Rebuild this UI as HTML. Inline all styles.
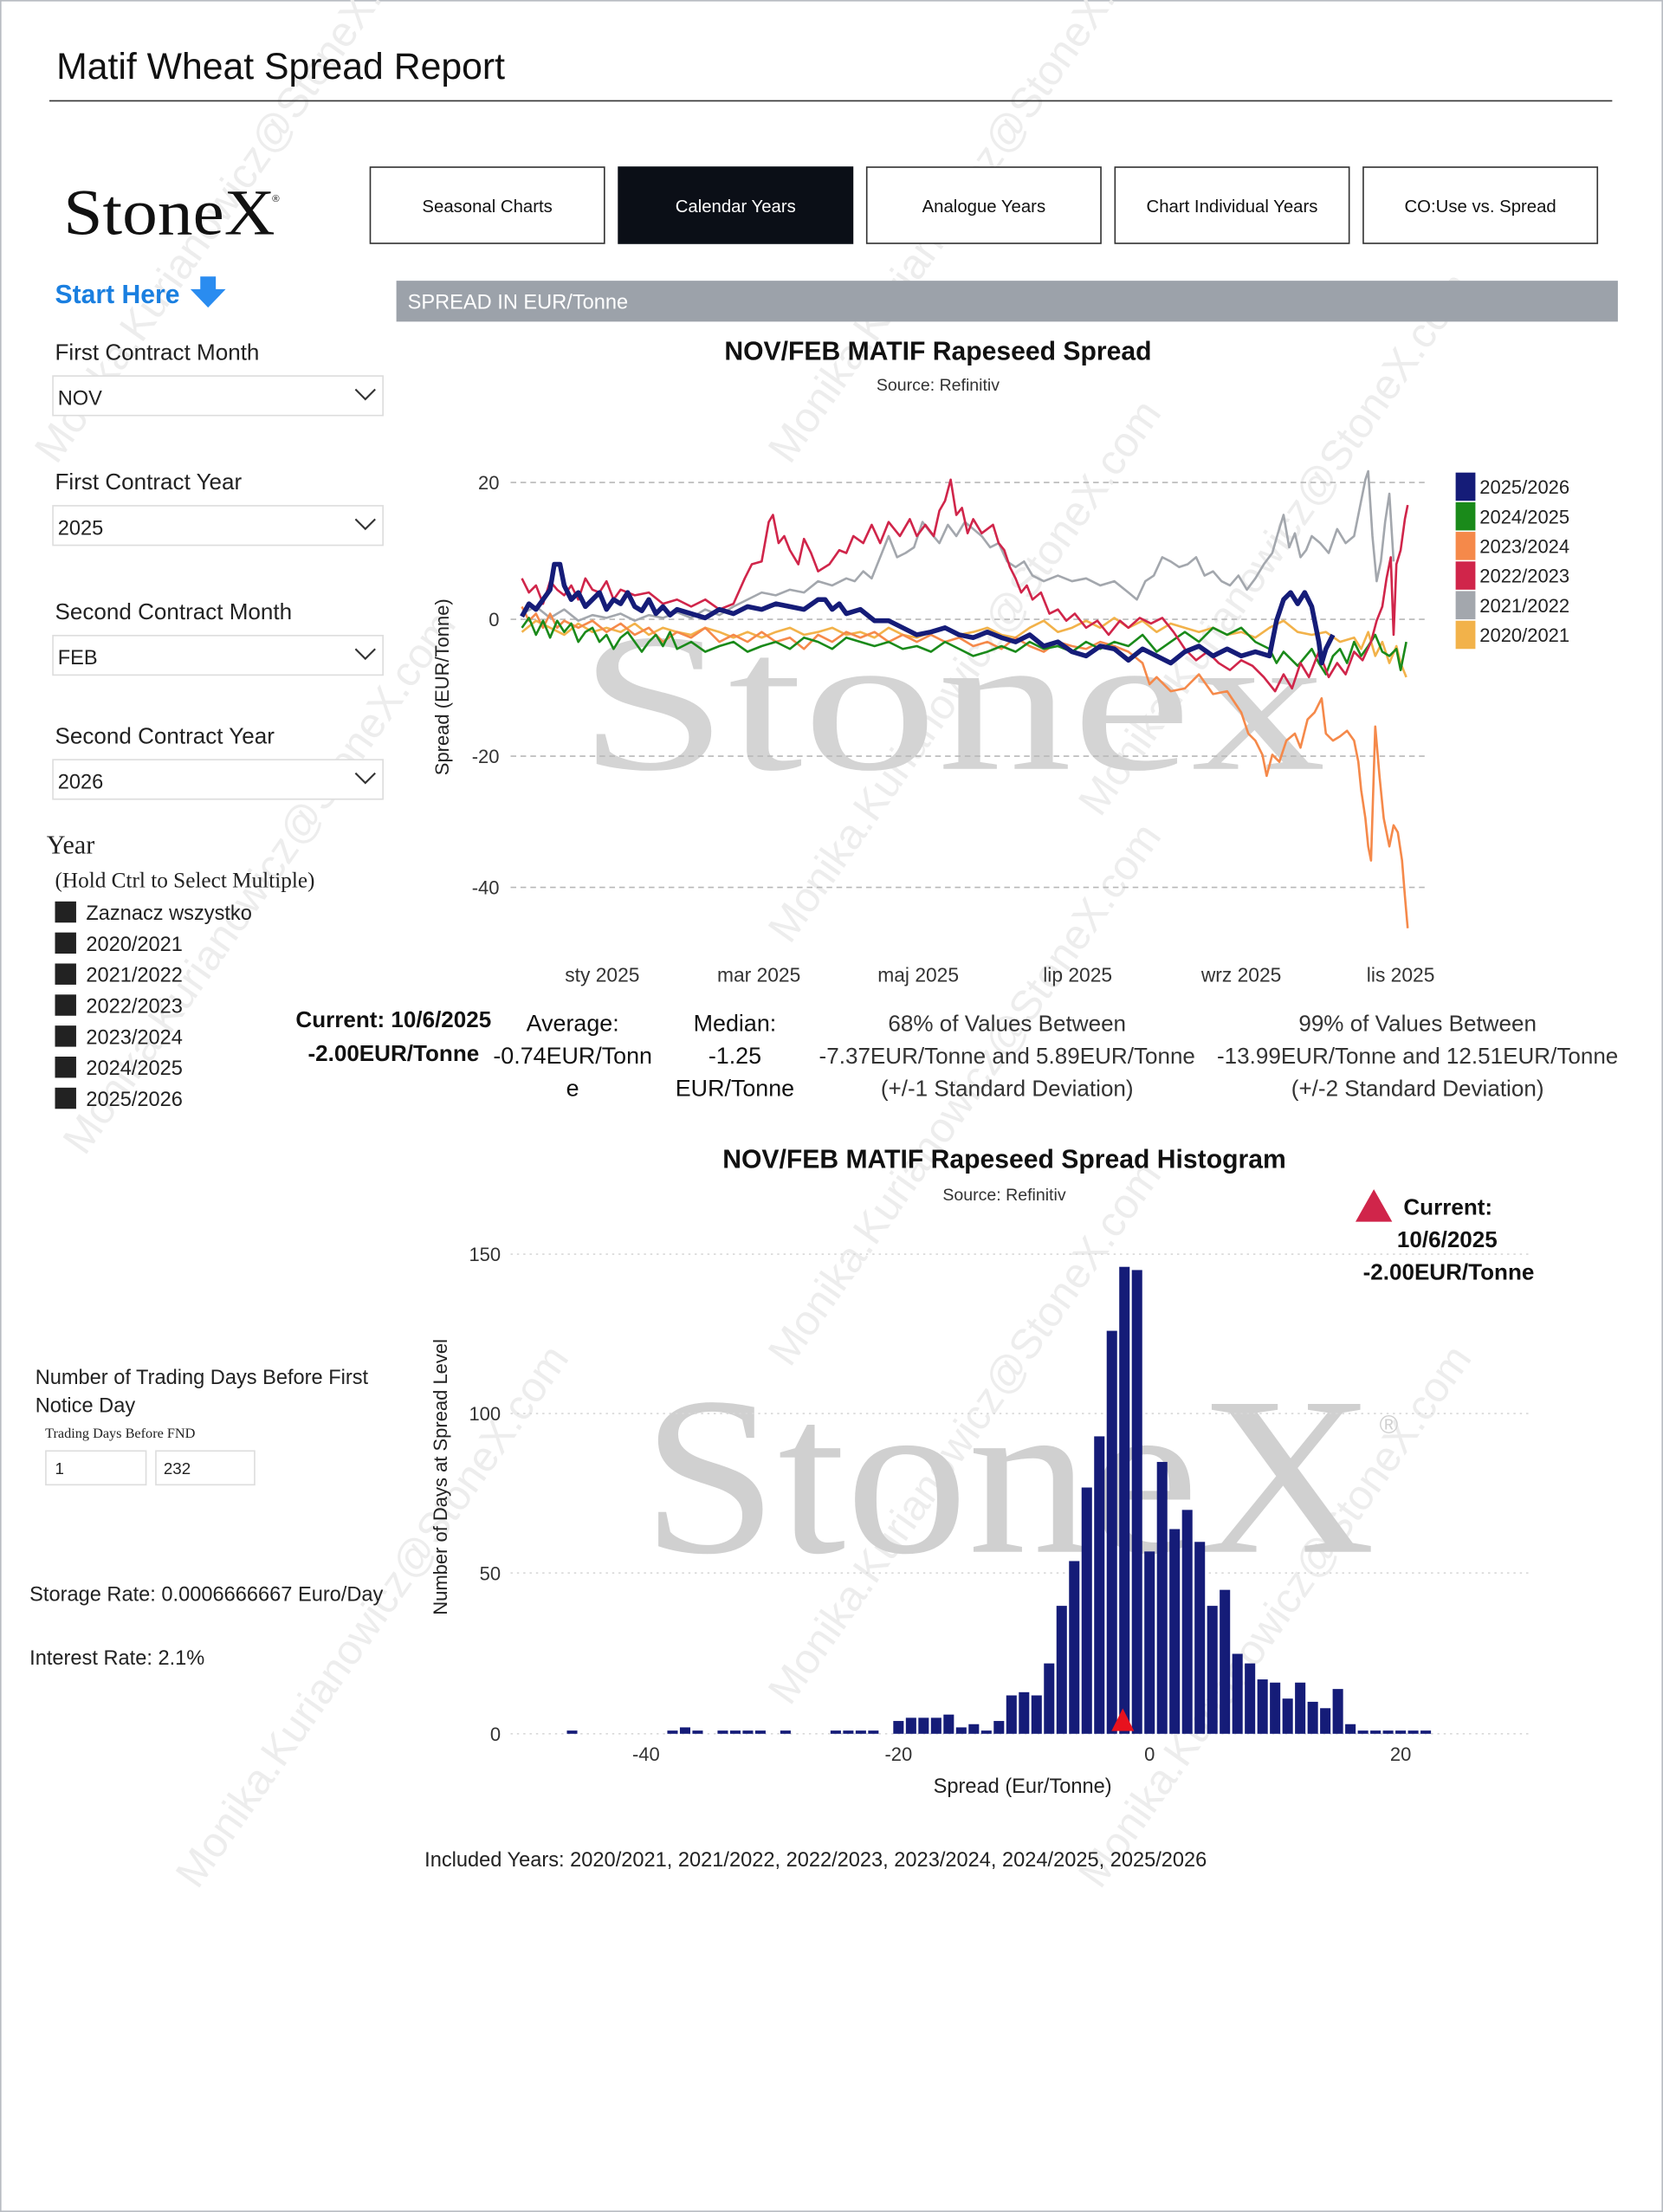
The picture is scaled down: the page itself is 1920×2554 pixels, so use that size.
<!DOCTYPE html>
<html><head><meta charset="utf-8"><style>
html,body{margin:0;padding:0;background:#fff;}
svg{display:block;}
text{font-family:"Liberation Sans",sans-serif;}
.serif{font-family:"Liberation Serif",serif;}
</style></head><body>
<svg width="1920" height="2554" viewBox="0 0 1179 1568" preserveAspectRatio="none" xmlns="http://www.w3.org/2000/svg">
<rect x="0.5" y="0.5" width="1178" height="1567" fill="#fff" stroke="#b8bcc2" stroke-width="1"/>

<!-- faint diagonal watermarks -->
<g fill="#ededed" font-size="30">
<text transform="translate(40,330) rotate(-55)">Monika.Kurianowicz@StoneX.com</text>
<text transform="translate(60,820) rotate(-55)">Monika.Kurianowicz@StoneX.com</text>
<text transform="translate(140,1340) rotate(-55)">Monika.Kurianowicz@StoneX.com</text>
<text transform="translate(560,330) rotate(-55)">Monika.Kurianowicz@StoneX.com</text>
<text transform="translate(560,670) rotate(-55)">Monika.Kurianowicz@StoneX.com</text>
<text transform="translate(560,970) rotate(-55)">Monika.Kurianowicz@StoneX.com</text>
<text transform="translate(560,1210) rotate(-55)">Monika.Kurianowicz@StoneX.com</text>
<text transform="translate(780,580) rotate(-55)">Monika.Kurianowicz@StoneX.com</text>
<text transform="translate(780,1340) rotate(-55)">Monika.Kurianowicz@StoneX.com</text>
</g>

<!-- header -->
<text x="40" y="56" font-size="26" fill="#111" textLength="318" lengthAdjust="spacingAndGlyphs">Matif Wheat Spread Report</text>
<line x1="35" y1="71.5" x2="1143" y2="71.5" stroke="#333" stroke-width="1"/>

<!-- logo -->
<text x="45" y="166" class="serif" font-size="46" fill="#111" textLength="150" lengthAdjust="spacingAndGlyphs">StoneX</text>
<text x="193" y="143" font-size="7" fill="#111">®</text>

<!-- buttons -->
<g font-size="12.5" text-anchor="middle">
<rect x="262.5" y="118.5" width="166" height="54" fill="#fff" stroke="#333"/>
<text x="345.5" y="150.5" fill="#111">Seasonal Charts</text>
<rect x="438" y="118" width="167" height="55" fill="#0b0f17"/>
<text x="521.5" y="150.5" fill="#fff">Calendar Years</text>
<rect x="614.5" y="118.5" width="166" height="54" fill="#fff" stroke="#333"/>
<text x="697.5" y="150.5" fill="#111">Analogue Years</text>
<rect x="790.5" y="118.5" width="166" height="54" fill="#fff" stroke="#333"/>
<text x="873.5" y="150.5" fill="#111">Chart Individual Years</text>
<rect x="966.5" y="118.5" width="166" height="54" fill="#fff" stroke="#333"/>
<text x="1049.5" y="150.5" fill="#111">CO:Use vs. Spread</text>
</g>

<!-- start here -->
<text x="39" y="215" font-size="18.5" font-weight="bold" fill="#1a7fe0">Start Here</text>
<path d="M142,196 h11 v9 h7 l-12.5,13 l-12.5,-13 h7 z" fill="#2a8cf0"/>

<!-- left controls -->
<g font-size="16" fill="#222">
<text x="39" y="255">First Contract Month</text>
<text x="39" y="347">First Contract Year</text>
<text x="39" y="439">Second Contract Month</text>
<text x="39" y="527">Second Contract Year</text>
</g>
<g fill="#fff" stroke="#ddd">
<rect x="37.5" y="266.5" width="234" height="28"/>
<rect x="37.5" y="358.5" width="234" height="28"/>
<rect x="37.5" y="450.5" width="234" height="28"/>
<rect x="37.5" y="538.5" width="234" height="28"/>
</g>
<g font-size="14.5" fill="#222">
<text x="41" y="287">NOV</text>
<text x="41" y="379">2025</text>
<text x="41" y="471">FEB</text>
<text x="41" y="559">2026</text>
</g>
<g fill="none" stroke="#333" stroke-width="1.3">
<polyline points="252,276 259,283 266,276"/>
<polyline points="252,368 259,375 266,368"/>
<polyline points="252,460 259,467 266,460"/>
<polyline points="252,548 259,555 266,548"/>
</g>

<text x="33" y="605" class="serif" font-size="18.5" fill="#222">Year</text>
<text x="39" y="629" class="serif" font-size="15.5" fill="#222">(Hold Ctrl to Select Multiple)</text>
<g fill="#222">
<rect x="39" y="639" width="15" height="15"/>
<rect x="39" y="661" width="15" height="15"/>
<rect x="39" y="683" width="15" height="15"/>
<rect x="39" y="705" width="15" height="15"/>
<rect x="39" y="727" width="15" height="15"/>
<rect x="39" y="749" width="15" height="15"/>
<rect x="39" y="771" width="15" height="15"/>
</g>
<g font-size="14.5" fill="#222">
<text x="61" y="652">Zaznacz wszystko</text>
<text x="61" y="674">2020/2021</text>
<text x="61" y="696">2021/2022</text>
<text x="61" y="718">2022/2023</text>
<text x="61" y="740">2023/2024</text>
<text x="61" y="762">2024/2025</text>
<text x="61" y="784">2025/2026</text>
</g>

<!-- gray bar -->
<rect x="281" y="199" width="866" height="29" fill="#9ca2aa"/>
<text x="289" y="219" font-size="14.5" fill="#fff">SPREAD IN EUR/Tonne</text>

<!-- line chart -->
<text x="665" y="255" font-size="18.5" font-weight="bold" fill="#111" text-anchor="middle">NOV/FEB MATIF Rapeseed Spread</text>
<text x="665" y="277" font-size="12" fill="#333" text-anchor="middle">Source: Refinitiv</text>

<text x="410" y="545" class="serif" font-size="140" fill="#d4d4d4" textLength="530" lengthAdjust="spacingAndGlyphs">Stonex</text>

<g stroke="#b8b8b8" stroke-dasharray="4,3" stroke-width="1">
<line x1="362" y1="342" x2="1010" y2="342"/>
<line x1="362" y1="439" x2="1010" y2="439"/>
<line x1="362" y1="536" x2="1010" y2="536"/>
<line x1="362" y1="629" x2="1010" y2="629"/>
</g>
<g font-size="13.5" fill="#333" text-anchor="end">
<text x="354" y="347">20</text>
<text x="354" y="444">0</text>
<text x="354" y="541">-20</text>
<text x="354" y="634">-40</text>
</g>
<text transform="translate(318,487) rotate(-90)" font-size="13.5" fill="#222" text-anchor="middle">Spread (EUR/Tonne)</text>
<g font-size="14" fill="#333" text-anchor="middle">
<text x="427" y="696">sty 2025</text>
<text x="538" y="696">mar 2025</text>
<text x="651" y="696">maj 2025</text>
<text x="764" y="696">lip 2025</text>
<text x="880" y="696">wrz 2025</text>
<text x="993" y="696">lis 2025</text>
</g>

<g fill="none" stroke-width="1.6" stroke-linejoin="round">
<polyline stroke="#a3a7ad" points="370,435 380,430 390,438 400,432 410,440 420,436 430,438 440,435 450,440 460,436 470,438 480,434 490,438 500,432 510,436 520,430 530,425 540,420 550,422 560,418 570,420 580,412 590,415 600,410 606,412 612,405 618,410 624,395 630,380 636,395 642,392 648,388 654,370 660,378 666,385 672,372 678,380 684,370 690,375 696,380 702,388 708,385 714,398 720,402 726,398 732,408 740,412 750,408 760,412 770,410 780,415 790,412 800,420 806,425 812,412 818,408 824,395 830,398 836,402 842,400 848,395 854,408 860,405 866,412 872,415 878,408 884,418 890,410 896,400 902,392 906,378 910,365 914,388 918,378 922,395 926,390 930,380 936,385 942,392 948,375 954,385 960,380 964,360 968,340 970,334 973,380 976,412 979,398 982,370 985,350 988,398"/>
<polyline stroke="#f2b24a" points="370,448 380,440 390,445 400,450 410,442 420,448 430,445 440,448 450,442 460,450 470,445 480,448 490,450 500,445 510,448 520,452 530,448 540,452 550,448 560,445 570,450 580,448 590,445 600,450 610,448 620,452 630,445 640,450 650,452 660,448 670,445 680,450 690,448 700,445 710,450 720,452 730,445 740,440 750,448 760,445 770,440 780,445 790,438 800,445 810,440 820,448 830,442 840,445 850,448 860,445 870,450 880,448 890,452 900,445 910,440 920,448 930,450 940,448 950,455 960,452 965,460 970,448 975,465 980,455 985,470 990,458 993,470 997,480"/>
<polyline stroke="#f5894a" points="370,430 375,440 380,435 385,445 390,435 395,445 400,440 410,445 420,440 430,448 440,442 450,450 460,445 470,455 480,448 490,452 500,445 510,455 520,450 530,455 540,448 550,455 560,452 570,460 580,450 590,455 600,448 610,452 620,448 630,455 640,450 650,455 660,450 670,455 680,452 690,458 700,455 710,460 720,452 730,458 740,462 750,455 760,458 770,460 780,455 790,458 800,462 810,470 815,485 820,480 830,490 840,488 850,478 860,492 870,490 880,505 885,520 890,525 895,535 898,550 902,535 907,540 912,525 918,520 922,530 927,510 932,505 937,495 940,520 945,525 950,522 955,518 960,525 963,540 965,560 968,580 970,600 972,610 975,515 978,550 981,580 985,600 988,585 991,590 994,610 996,635 998,658"/>
<polyline stroke="#1a8a1a" points="370,445 375,438 380,450 385,440 390,452 395,440 400,448 405,442 410,455 415,448 420,445 425,455 430,450 435,460 440,452 445,448 450,455 455,462 460,455 465,450 470,458 475,448 480,460 490,455 500,462 510,458 520,455 530,462 540,458 550,455 560,460 570,452 580,455 590,460 600,452 610,455 620,458 630,455 640,460 650,458 660,462 670,455 680,460 690,465 700,462 710,458 720,462 730,455 740,460 750,458 760,462 770,455 780,460 790,455 800,458 810,450 820,462 830,455 840,448 850,455 860,445 870,450 880,445 890,455 900,460 905,470 910,462 920,472 930,460 935,470 940,478 945,465 950,460 955,470 960,455 965,465 970,458 975,450 980,462 985,465 990,460 993,475 997,455"/>
<polyline stroke="#d0254a" points="370,410 375,420 380,415 385,428 390,412 395,418 400,422 405,415 410,425 415,410 420,418 425,420 430,412 435,425 440,418 450,422 460,420 470,428 480,425 490,430 500,425 510,432 520,428 528,410 533,400 540,398 545,370 548,365 552,385 556,380 560,390 566,400 570,382 575,392 580,405 588,400 595,390 600,392 605,380 612,385 618,372 624,385 630,370 638,380 645,368 650,380 656,372 662,380 666,362 670,355 674,340 678,365 682,360 686,378 690,368 696,378 700,375 704,372 708,385 712,390 716,402 720,410 724,420 728,415 732,425 738,420 744,435 750,432 756,440 762,435 770,445 778,440 786,450 794,440 800,445 808,438 816,442 824,438 832,448 840,460 848,468 856,462 864,470 872,475 880,468 888,472 896,480 904,490 910,478 916,488 922,470 928,480 935,462 942,480 948,470 954,478 960,462 966,468 972,455 976,440 980,430 983,410 986,395 988,450 990,400 993,390 996,368 998,358"/>
<polyline stroke="#151c78" stroke-width="3.4" points="370,437 375,428 380,432 385,425 390,418 393,400 397,400 400,415 405,425 410,420 415,430 420,425 425,420 430,432 435,425 440,428 445,420 450,430 455,433 460,425 465,435 470,430 475,436 480,432 490,435 500,438 510,432 520,435 530,430 540,432 550,428 560,430 570,432 580,425 585,425 590,432 595,428 600,435 610,432 620,440 630,440 640,445 650,450 660,448 670,445 680,450 690,452 700,448 710,452 720,455 730,450 740,458 750,455 760,462 770,465 780,458 790,460 800,468 810,460 820,465 830,470 840,462 850,458 860,465 870,460 880,465 890,462 900,465 905,440 910,425 915,420 920,428 925,420 930,430 935,455 937,470 940,460 945,450"/>
</g>

<!-- legend -->
<rect x="1032" y="335" width="14" height="20" fill="#151c78"/>
<rect x="1032" y="356" width="14" height="20" fill="#1a8a1a"/>
<rect x="1032" y="377" width="14" height="20" fill="#f5894a"/>
<rect x="1032" y="398" width="14" height="20" fill="#d0254a"/>
<rect x="1032" y="419" width="14" height="20" fill="#a3a7ad"/>
<rect x="1032" y="440" width="14" height="20" fill="#f2b24a"/>
<g font-size="13.5" fill="#222">
<text x="1049" y="350">2025/2026</text>
<text x="1049" y="371">2024/2025</text>
<text x="1049" y="392">2023/2024</text>
<text x="1049" y="413">2022/2023</text>
<text x="1049" y="434">2021/2022</text>
<text x="1049" y="455">2020/2021</text>
</g>

<!-- stats -->
<g font-size="16.5" fill="#111" text-anchor="middle">
<text x="279" y="728" font-weight="bold" font-size="16">Current: 10/6/2025</text>
<text x="279" y="752" font-weight="bold" font-size="16">-2.00EUR/Tonne</text>
<text x="406" y="731">Average:</text>
<text x="406" y="754">-0.74EUR/Tonn</text>
<text x="406" y="777">e</text>
<text x="521" y="731">Median:</text>
<text x="521" y="754">-1.25</text>
<text x="521" y="777">EUR/Tonne</text>
</g>
<g font-size="16" fill="#333" text-anchor="middle">
<text x="714" y="731">68% of Values Between</text>
<text x="714" y="754">-7.37EUR/Tonne and 5.89EUR/Tonne</text>
<text x="714" y="777">(+/-1 Standard Deviation)</text>
<text x="1005" y="731">99% of Values Between</text>
<text x="1005" y="754">-13.99EUR/Tonne and 12.51EUR/Tonne</text>
<text x="1005" y="777">(+/-2 Standard Deviation)</text>
</g>

<!-- histogram -->
<text x="712" y="828" font-size="18.5" font-weight="bold" fill="#111" text-anchor="middle">NOV/FEB MATIF Rapeseed Spread Histogram</text>
<text x="712" y="851" font-size="12" fill="#333" text-anchor="middle">Source: Refinitiv</text>

<text x="455" y="1100" class="serif" font-size="160" fill="#d0d0d0" textLength="520" lengthAdjust="spacingAndGlyphs">StoneX</text>
<text x="978" y="1016" font-size="18" fill="#d0d0d0">®</text>

<g stroke="#d8d8d8" stroke-dasharray="1.5,3" stroke-width="1">
<line x1="362" y1="889" x2="1085" y2="889"/>
<line x1="362" y1="1002" x2="1085" y2="1002"/>
<line x1="362" y1="1115" x2="1085" y2="1115"/>
<line x1="362" y1="1229" x2="1085" y2="1229"/>
</g>
<g font-size="13.5" fill="#333" text-anchor="end">
<text x="355" y="894">150</text>
<text x="355" y="1007">100</text>
<text x="355" y="1120">50</text>
<text x="355" y="1234">0</text>
</g>
<text transform="translate(317,1047) rotate(-90)" font-size="13.5" fill="#222" text-anchor="middle">Number of Days at Spread Level</text>
<g font-size="13.5" fill="#333" text-anchor="middle">
<text x="458" y="1248">-40</text>
<text x="637" y="1248">-20</text>
<text x="815" y="1248">0</text>
<text x="993" y="1248">20</text>
</g>
<text x="725" y="1271" font-size="14.5" fill="#222" text-anchor="middle">Spread (Eur/Tonne)</text>

<g transform="translate(0,1229) scale(1,-2.267)" fill="#151c78">
<rect x="401.9" y="0" width="7.4" height="1"/>
<rect x="473.1" y="0" width="7.4" height="1"/>
<rect x="482.0" y="0" width="7.4" height="2"/>
<rect x="490.9" y="0" width="7.4" height="1"/>
<rect x="508.7" y="0" width="7.4" height="1"/>
<rect x="517.6" y="0" width="7.4" height="1"/>
<rect x="526.5" y="0" width="7.4" height="1"/>
<rect x="535.4" y="0" width="7.4" height="1"/>
<rect x="553.2" y="0" width="7.4" height="1"/>
<rect x="588.8" y="0" width="7.4" height="1"/>
<rect x="597.7" y="0" width="7.4" height="1"/>
<rect x="606.6" y="0" width="7.4" height="1"/>
<rect x="615.5" y="0" width="7.4" height="1"/>
<rect x="633.3" y="0" width="7.4" height="4"/>
<rect x="642.2" y="0" width="7.4" height="5"/>
<rect x="651.1" y="0" width="7.4" height="5"/>
<rect x="660.0" y="0" width="7.4" height="5"/>
<rect x="668.9" y="0" width="7.4" height="6"/>
<rect x="677.8" y="0" width="7.4" height="2"/>
<rect x="686.7" y="0" width="7.4" height="3"/>
<rect x="695.6" y="0" width="7.4" height="1"/>
<rect x="704.5" y="0" width="7.4" height="4"/>
<rect x="713.4" y="0" width="7.4" height="12"/>
<rect x="722.3" y="0" width="7.4" height="13"/>
<rect x="731.2" y="0" width="7.4" height="12"/>
<rect x="740.1" y="0" width="7.4" height="22"/>
<rect x="749.0" y="0" width="7.4" height="40"/>
<rect x="757.9" y="0" width="7.4" height="54"/>
<rect x="766.8" y="0" width="7.4" height="77"/>
<rect x="775.7" y="0" width="7.4" height="93"/>
<rect x="784.6" y="0" width="7.4" height="126"/>
<rect x="793.5" y="0" width="7.4" height="146"/>
<rect x="802.4" y="0" width="7.4" height="145"/>
<rect x="811.3" y="0" width="7.4" height="57"/>
<rect x="820.2" y="0" width="7.4" height="85"/>
<rect x="829.1" y="0" width="7.4" height="64"/>
<rect x="838.0" y="0" width="7.4" height="70"/>
<rect x="846.9" y="0" width="7.4" height="60"/>
<rect x="855.8" y="0" width="7.4" height="40"/>
<rect x="864.7" y="0" width="7.4" height="45"/>
<rect x="873.6" y="0" width="7.4" height="25"/>
<rect x="882.5" y="0" width="7.4" height="22"/>
<rect x="891.4" y="0" width="7.4" height="17"/>
<rect x="900.3" y="0" width="7.4" height="16"/>
<rect x="909.2" y="0" width="7.4" height="11"/>
<rect x="918.1" y="0" width="7.4" height="16"/>
<rect x="927.0" y="0" width="7.4" height="10"/>
<rect x="935.9" y="0" width="7.4" height="8"/>
<rect x="944.8" y="0" width="7.4" height="14"/>
<rect x="953.7" y="0" width="7.4" height="3"/>
<rect x="962.6" y="0" width="7.4" height="1"/>
<rect x="971.5" y="0" width="7.4" height="1"/>
<rect x="980.4" y="0" width="7.4" height="1"/>
<rect x="989.3" y="0" width="7.4" height="1"/>
<rect x="998.2" y="0" width="7.4" height="1"/>
<rect x="1007.1" y="0" width="7.4" height="1"/>
</g>
<path d="M796,1211 L804,1227 L788,1227 Z" fill="#e8121e"/>

<!-- current annotation -->
<path d="M974,843 L987,866 L961,866 Z" fill="#d0254a"/>
<g font-size="16" font-weight="bold" fill="#111">
<text x="995" y="861">Current:</text>
<text x="1026" y="884" text-anchor="middle">10/6/2025</text>
<text x="1027" y="907" text-anchor="middle">-2.00EUR/Tonne</text>
</g>

<!-- left bottom -->
<g font-size="14.5" fill="#222">
<text x="25" y="981">Number of Trading Days Before First</text>
<text x="25" y="1001">Notice Day</text>
</g>
<text x="32" y="1019" class="serif" font-size="10" fill="#222">Trading Days Before FND</text>
<rect x="32.5" y="1028.5" width="71" height="24" fill="#fff" stroke="#ddd"/>
<rect x="110.5" y="1028.5" width="70" height="24" fill="#fff" stroke="#ddd"/>
<text x="39" y="1045" font-size="11.5" fill="#222">1</text>
<text x="116" y="1045" font-size="11.5" fill="#222">232</text>
<text x="21" y="1135" font-size="14.5" fill="#222">Storage Rate: 0.0006666667 Euro/Day</text>
<text x="21" y="1180" font-size="14.5" fill="#222">Interest Rate: 2.1%</text>

<text x="301" y="1323" font-size="14.5" fill="#222">Included Years: 2020/2021, 2021/2022, 2022/2023, 2023/2024, 2024/2025, 2025/2026</text>
</svg>
</body></html>
